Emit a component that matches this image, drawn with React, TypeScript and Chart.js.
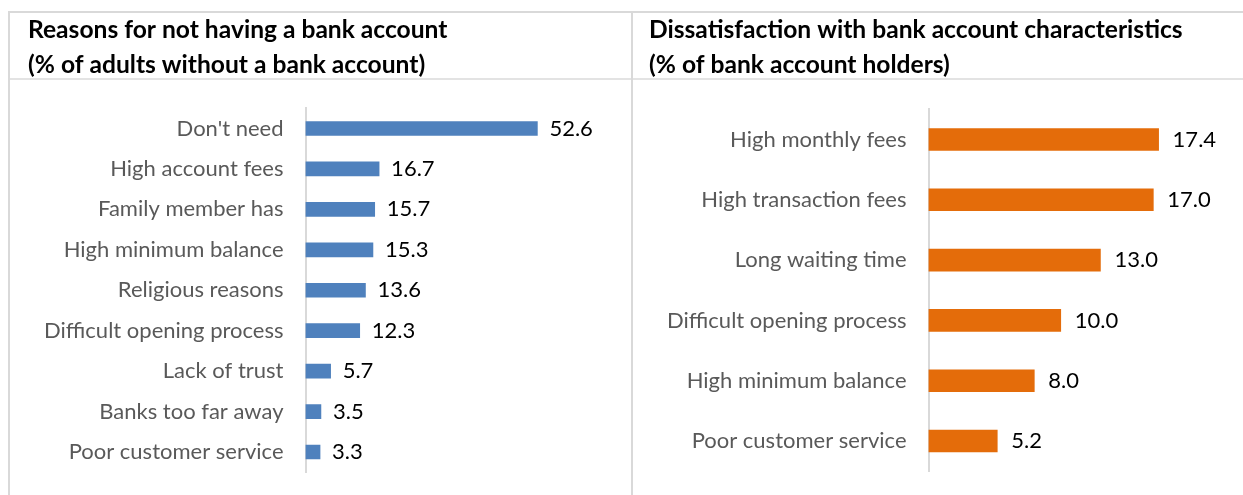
import React, { useEffect, useRef } from "react";
import { Chart, registerables } from "chart.js";

Chart.register(...registerables);

const leftTitle = ["Reasons for not having a bank account", "(% of adults without a bank account)"];
const leftCategories = [
  "Don't need",
  "High account fees",
  "Family member has",
  "High minimum balance",
  "Religious reasons",
  "Difficult opening process",
  "Lack of trust",
  "Banks too far away",
  "Poor customer service",
];
const leftValues = [52.6, 16.7, 15.7, 15.3, 13.6, 12.3, 5.7, 3.5, 3.3];

const rightTitle = ["Dissatisfaction with bank account characteristics", "(% of bank account holders)"];
const rightCategories = [
  "High monthly fees",
  "High transaction fees",
  "Long waiting time",
  "Difficult opening process",
  "High minimum balance",
  "Poor customer service",
];
const rightValues = [17.4, 17.0, 13.0, 10.0, 8.0, 5.2];

const FONT = "Lato, 'Open Sans', sans-serif";

const valueLabels = {
  id: "valueLabels",
  afterDatasetsDraw(chart: any, _args: any, opts: any) {
    const { ctx } = chart;
    const meta = chart.getDatasetMeta(0);
    const ds = chart.data.datasets[0];
    const gap = (opts && opts.gap) || 12;
    ctx.save();
    ctx.font = `22px ${FONT}`;
    ctx.fillStyle = "#000000";
    ctx.textAlign = "left";
    ctx.textBaseline = "middle";
    meta.data.forEach((bar: any, i: number) => {
      ctx.fillText(Number(ds.data[i]).toFixed(1), bar.x + gap, bar.y);
    });
    ctx.restore();
  },
};

type PanelProps = {
  left: number;
  top: number;
  width: number;
  height: number;
  title: string[];
  categories: string[];
  values: number[];
  color: string;
  xMax: number;
  pad: { left: number; right: number; bottom: number };
  axisWidth: number;
  titleBottom: number;
  barThickness: number;
  labelGap: number;
};

function Panel(p: PanelProps) {
  const ref = useRef<HTMLCanvasElement | null>(null);
  useEffect(() => {
    if (!ref.current) return;
    const chart = new Chart(ref.current, {
      type: "bar",
      data: {
        labels: p.categories,
        datasets: [
          {
            data: p.values,
            backgroundColor: p.color,
            borderWidth: 0,
            barThickness: p.barThickness,
          },
        ],
      },
      options: {
        indexAxis: "y",
        responsive: false,
        animation: false,
        layout: { padding: { top: 0, left: p.pad.left, right: p.pad.right, bottom: p.pad.bottom } },
        plugins: {
          legend: { display: false },
          tooltip: { enabled: false },
          valueLabels: { gap: p.labelGap },
          title: {
            display: true,
            text: p.title,
            align: "start",
            color: "#000000",
            font: { family: FONT, size: 24.6, weight: "bold", lineHeight: "35px" },
            padding: { top: 0, bottom: p.titleBottom },
          },
        },
        scales: {
          x: { display: false, min: 0, max: p.xMax },
          y: {
            grid: { display: false, drawTicks: false },
            border: { display: true, color: "#d9d9d9", width: 2 },
            ticks: { color: "#595959", font: { family: FONT, size: 22 }, padding: 22 },
            afterFit: (scale: any) => {
              scale.width = p.axisWidth;
              scale.paddingTop = 0;
              scale.paddingBottom = 0;
            },
          },
        },
      },
      plugins: [valueLabels],
    } as any);
    return () => chart.destroy();
  }, []);
  return (
    <canvas
      ref={ref}
      width={p.width}
      height={p.height}
      style={{ position: "absolute", left: p.left, top: p.top, width: p.width, height: p.height }}
    />
  );
}

const line = (left: number, top: number, width: number, height: number, bg = "#d9d9d9") => (
  <div style={{ position: "absolute", left, top, width, height, background: bg }} />
);

export default function App() {
  return (
    <div style={{ position: "absolute", left: 0, top: 0, width: 1243, height: 495, background: "#ffffff", overflow: "hidden" }}>
      <Panel
        left={10}
        top={13}
        width={621}
        height={482}
        title={leftTitle}
        categories={leftCategories}
        values={leftValues}
        color="#4f81bd"
        xMax={60}
        pad={{ left: 18, right: 61, bottom: 22.75 }}
        axisWidth={277.5}
        titleBottom={25.25}
        barThickness={14}
        labelGap={12}
      />
      <Panel
        left={634}
        top={13}
        width={609}
        height={482}
        title={rightTitle}
        categories={rightCategories}
        values={rightValues}
        color="#e46c0a"
        xMax={20}
        pad={{ left: 15, right: 50, bottom: 23.8 }}
        axisWidth={279.5}
        titleBottom={26.3}
        barThickness={22}
        labelGap={14}
      />
      {line(8, 11, 1235, 2)}
      {line(8, 78, 1235, 2, "#e3e3e3")}
      {line(8, 11, 2, 484)}
      {line(631, 11, 2, 484)}
    </div>
  );
}
